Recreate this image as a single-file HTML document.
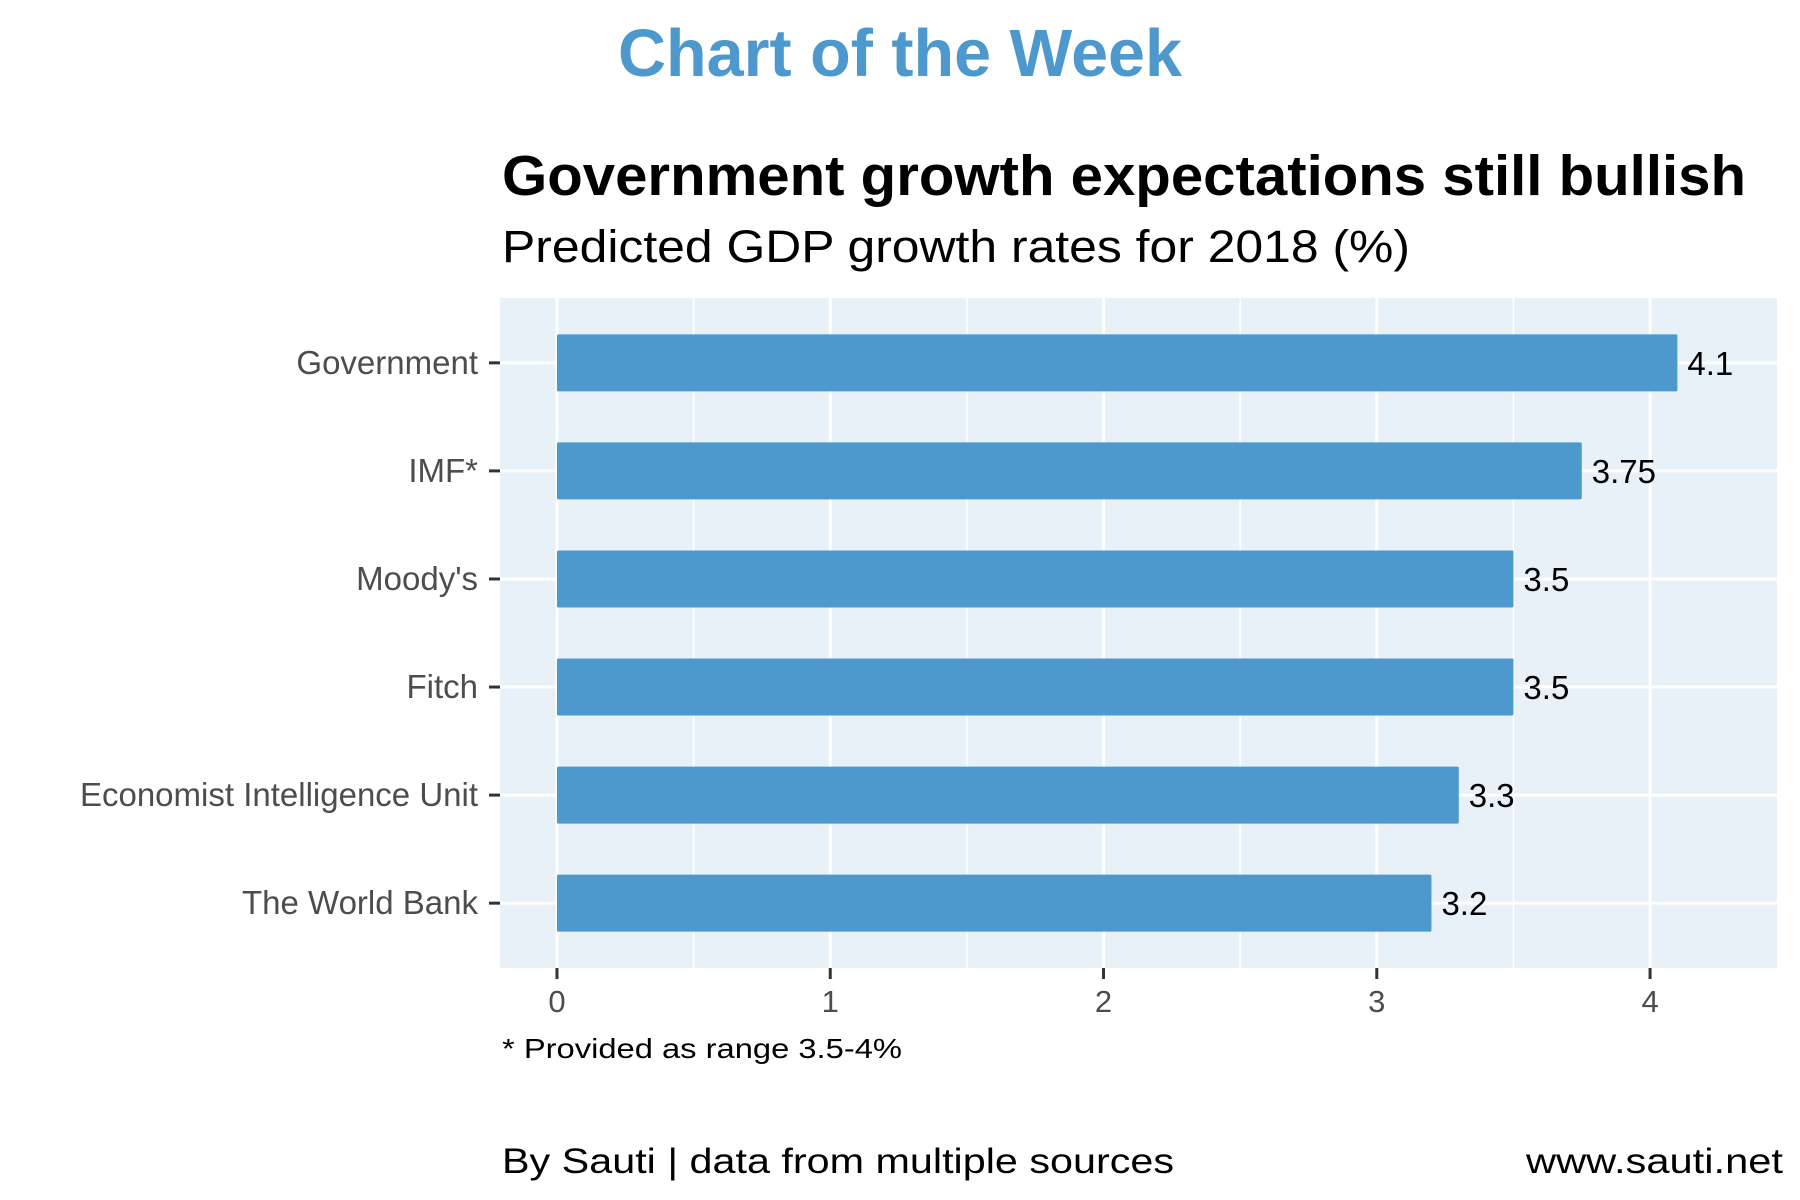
<!DOCTYPE html>
<html><head><meta charset="utf-8"><style>
html,body{margin:0;padding:0;background:#fff;}
svg{display:block;font-family:"Liberation Sans",Arial,sans-serif;}
</style></head><body>
<svg id="chart" width="1800" height="1200" viewBox="0 0 1800 1200" xmlns="http://www.w3.org/2000/svg">
<rect x="0" y="0" width="1800" height="1200" fill="#fff"/>
<text x="900" y="76" text-anchor="middle" font-size="67" font-weight="bold" fill="#4d98cd" textLength="564" lengthAdjust="spacingAndGlyphs">Chart of the Week</text>
<text x="502" y="195" font-size="57" font-weight="bold" fill="#000" textLength="1244" lengthAdjust="spacingAndGlyphs">Government growth expectations still bullish</text>
<text x="502" y="262" font-size="45" fill="#000" textLength="908" lengthAdjust="spacingAndGlyphs">Predicted GDP growth rates for 2018 (%)</text>
<rect x="500" y="298" width="1277" height="670" fill="#e8f0f8"/>
<g id="grid"></g>
<g id="bars"></g>
<g id="yaxis"></g>
<g id="xaxis"></g>
<text x="502" y="1058" font-size="28" fill="#000" textLength="400" lengthAdjust="spacingAndGlyphs">* Provided as range 3.5-4%</text>
<text x="502" y="1173" font-size="35" fill="#000" textLength="672" lengthAdjust="spacingAndGlyphs">By Sauti | data from multiple sources</text>
<text x="1783" y="1173" font-size="35" fill="#000" text-anchor="end" textLength="257" lengthAdjust="spacingAndGlyphs">www.sauti.net</text>
</svg>
<script>
const categories = ["Government","IMF*","Moody's","Fitch","Economist Intelligence Unit","The World Bank"];
const values = [4.1, 3.75, 3.5, 3.5, 3.3, 3.2];
const valueLabels = ["4.1","3.75","3.5","3.5","3.3","3.2"];
const xTicks = [0,1,2,3,4];
const xTickLabels = ["0","1","2","3","4"];
const xMinor = [0.5,1.5,2.5,3.5];

const NS="http://www.w3.org/2000/svg";
const panel={l:500,r:1777,t:298,b:968};
const xMinV=-0.2085, xMaxV=4.4645;
function xs(v){return panel.l+(v-xMinV)/(xMaxV-xMinV)*(panel.r-panel.l);}
const n=categories.length;
const step=(panel.b-panel.t)/(n-1+1.2);
function ys(i){return panel.t+step*(0.6+i);}
const barH=57;
function mk(tag,attrs,parent){const e=document.createElementNS(NS,tag);for(const k in attrs)e.setAttribute(k,attrs[k]);parent.appendChild(e);return e;}
const grid=document.getElementById('grid'),bars=document.getElementById('bars'),ya=document.getElementById('yaxis'),xa=document.getElementById('xaxis');
xMinor.forEach(v=>{const l=mk('line',{x1:xs(v),x2:xs(v),y1:panel.t,y2:panel.b,stroke:'#fff','stroke-width':1.5},grid);

});
xTicks.forEach(v=>{const l=mk('line',{x1:xs(v),x2:xs(v),y1:panel.t,y2:panel.b,stroke:'#fff','stroke-width':3},grid);

});
categories.forEach((c,i)=>{const l=mk('line',{x1:panel.l,x2:panel.r,y1:ys(i),y2:ys(i),stroke:'#fff','stroke-width':3},grid);

});
categories.forEach((c,i)=>{
  const y=ys(i);
  const r=mk('rect',{x:xs(0),y:y-barH/2,width:xs(values[i])-xs(0),height:barH,fill:'#4d98cd',rx:1.5},bars);
  
  
  const t=mk('text',{x:xs(values[i])+10,y:y+12,'font-size':33,fill:'#000'},bars);
  t.textContent=valueLabels[i];
  
  
  const tk=mk('line',{x1:panel.l-11,x2:panel.l,y1:y,y2:y,stroke:'#333','stroke-width':3},ya);
  
  
  const lb=mk('text',{x:478,y:y+11,'font-size':33,fill:'#4d4d4d','text-anchor':'end'},ya);
  lb.textContent=c;
  
  
});
xTicks.forEach((v,i)=>{
  const tk=mk('line',{x1:xs(v),x2:xs(v),y1:panel.b,y2:panel.b+11,stroke:'#333','stroke-width':3},xa);
  
  
  const lb=mk('text',{x:xs(v),y:1012,'font-size':31,fill:'#4d4d4d','text-anchor':'middle'},xa);
  lb.textContent=xTickLabels[i];
  
  
});
</script>
</body></html>
